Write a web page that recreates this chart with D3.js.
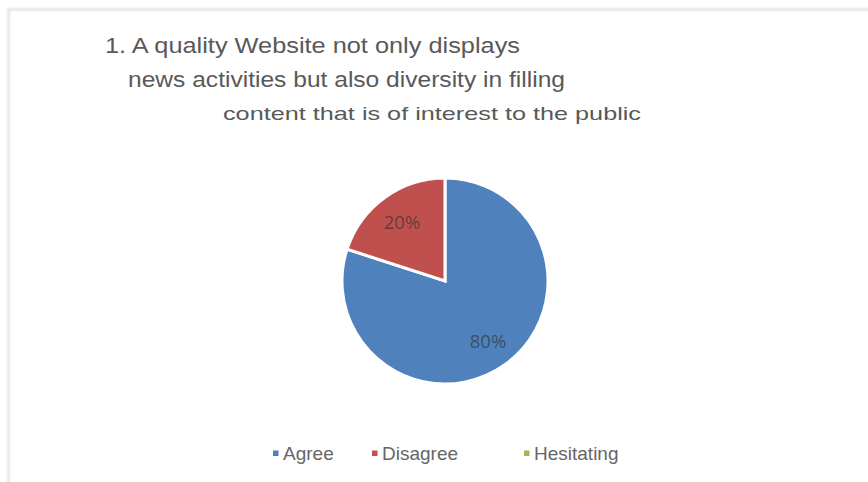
<!DOCTYPE html>
<html>
<head>
<meta charset="utf-8">
<script src="https://cdn.jsdelivr.net/npm/d3@7"></script>
<style>
  html, body { margin: 0; padding: 0; background: #ffffff; }
  svg { display: block; }
</style>
</head>
<body>
<svg id="chart" width="868" height="482"></svg>
<script>
// Survey answers for question 1
const categories = ["Agree", "Disagree", "Hesitating"];
const values = [80, 20, 0];
const sliceColors = ["#4f81bd", "#c0504d", "#9bbb59"];
const titleLines = [
  "1. A quality Website not only displays",
  "news activities but also diversity in filling",
  "content that is of interest to the public"
];

const svg = d3.select("#chart");
const W = 868, H = 482;

// chart frame with a soft grey edge on top and left
const defs = svg.append("defs");
defs.append("filter").attr("id", "soft")
  .append("feGaussianBlur").attr("stdDeviation", 0.8);
svg.append("rect")
  .attr("x", 8.5).attr("y", 9.5)
  .attr("width", W + 10).attr("height", H + 10)
  .attr("fill", "#ffffff")
  .attr("stroke", "#cfcfcf").attr("stroke-width", 1.5)
  .attr("filter", "url(#soft)");

// title, three lines (narrow, tall lettering)
const titleSpec = [
  { x: 105, y: 53, size: 22.5, len: 415 },
  { x: 128, y: 87, size: 22.5, len: 437 },
  { x: 223, y: 120, size: 19, len: 418 }
];
svg.append("g").selectAll("text")
  .data(titleLines)
  .join("text")
  .attr("x", (d, i) => titleSpec[i].x)
  .attr("y", (d, i) => titleSpec[i].y)
  .attr("font-family", "'Liberation Sans', Arial, sans-serif")
  .attr("font-size", (d, i) => titleSpec[i].size)
  .attr("fill", "#595959")
  .attr("textLength", (d, i) => titleSpec[i].len)
  .attr("lengthAdjust", "spacingAndGlyphs")
  .text(d => d);

// pie
const cx = 445, cy = 281, R = 103;
const data = categories.map((c, i) => ({ cat: c, value: values[i], color: sliceColors[i] }));
const pie = d3.pie().value(d => d.value).sort(null);
const arc = d3.arc().innerRadius(0).outerRadius(R);
const labelArc = d3.arc().innerRadius(R * 0.71).outerRadius(R * 0.71);
const total = d3.sum(values);

const g = svg.append("g").attr("transform", `translate(${cx},${cy})`);
const arcs = pie(data).filter(d => d.data.value > 0);
g.selectAll("path")
  .data(arcs)
  .join("path")
  .attr("d", arc)
  .attr("fill", d => d.data.color)
  .attr("stroke", "#ffffff")
  .attr("stroke-width", 3)
  .attr("stroke-linejoin", "miter");

g.selectAll("text")
  .data(arcs)
  .join("text")
  .attr("transform", d => `translate(${labelArc.centroid(d)})`)
  .attr("text-anchor", "middle")
  .attr("dominant-baseline", "central")
  .attr("font-family", "'Open Sans', 'Liberation Sans', sans-serif")
  .attr("font-size", 18.5)
  .attr("fill", "#303030")
  .attr("fill-opacity", 0.65)
  .text(d => Math.round(d.data.value / total * 100) + "%");

// legend
const legendX = [273, 372, 524];
const legend = svg.append("g").selectAll("g")
  .data(data)
  .join("g")
  .attr("transform", (d, i) => `translate(${legendX[i]},453)`);
legend.append("rect")
  .attr("x", 0).attr("y", -2.5)
  .attr("width", 5.5).attr("height", 5.5)
  .attr("fill", d => d.color);
legend.append("text")
  .attr("x", 10).attr("y", 6.5)
  .attr("font-family", "'Liberation Sans', Arial, sans-serif")
  .attr("font-size", 19)
  .attr("fill", "#666666")
  .text(d => d.cat);
</script>
</body>
</html>
